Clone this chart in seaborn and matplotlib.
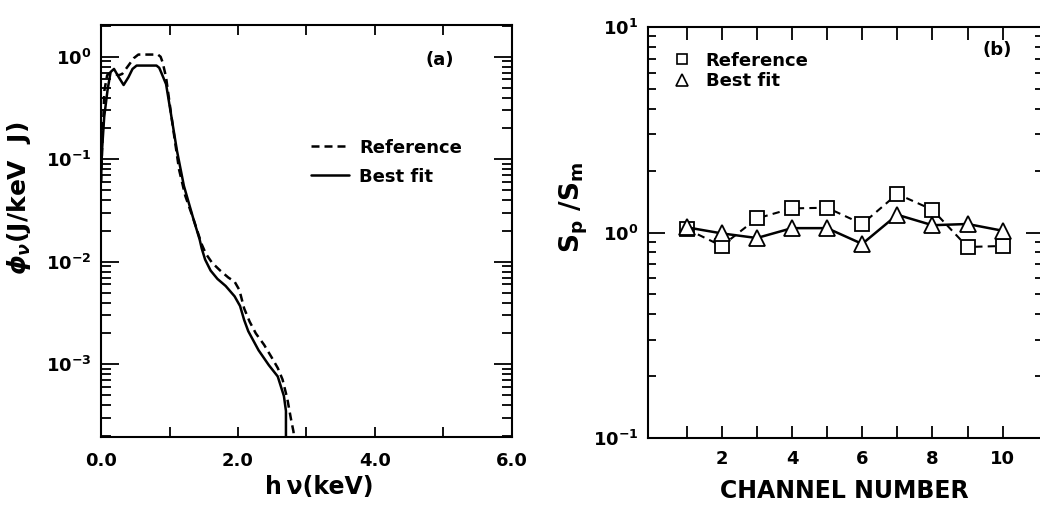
import numpy as np
import pandas as pd
import matplotlib
matplotlib.use("Agg")
import matplotlib.pyplot as plt
from matplotlib.lines import Line2D
from matplotlib.ticker import FixedLocator, FixedFormatter, LogLocator, NullFormatter
import seaborn as sns

# ---------------- data: panel (a) spectra ----------------
ref_energy = [0.00, 0.02, 0.05, 0.09, 0.14, 0.20, 0.26, 0.31, 0.40, 0.48, 0.545,
              0.83, 0.87, 0.90, 0.95, 1.01, 1.07, 1.14, 1.23, 1.35, 1.47, 1.53,
              1.62, 1.74, 1.86, 1.95, 2.02, 2.09, 2.17, 2.26, 2.38, 2.49, 2.58,
              2.65, 2.72, 2.77, 2.81, 2.84]
ref_flux = [0.06, 0.15, 0.47, 0.66, 0.70, 0.68, 0.66, 0.68, 0.82, 0.97, 1.05,
            1.05, 1.00, 0.88, 0.63, 0.32, 0.166, 0.079, 0.044, 0.026, 0.0148, 0.0120,
            0.0098, 0.0082, 0.0070, 0.0064, 0.0053, 0.0035, 0.0026, 0.0020, 0.00155, 0.00117, 0.00092,
            0.00071, 0.00046, 0.00030, 0.00022, 0.00012]

fit_energy = [0.00, 0.014, 0.047, 0.095, 0.14, 0.19, 0.26, 0.33, 0.40, 0.46, 0.52,
              0.81, 0.85, 0.88, 0.95, 1.02, 1.11, 1.21, 1.35, 1.44, 1.47, 1.52,
              1.60, 1.70, 1.82, 1.95, 2.03, 2.09, 2.15, 2.30, 2.45, 2.58, 2.67,
              2.70, 2.70]
fit_flux = [0.06, 0.12, 0.26, 0.47, 0.71, 0.76, 0.63, 0.53, 0.63, 0.76, 0.82,
            0.82, 0.78, 0.70, 0.54, 0.28, 0.12, 0.055, 0.026, 0.0165, 0.0135, 0.0105,
            0.0082, 0.0068, 0.0058, 0.0046, 0.0037, 0.0027, 0.0021, 0.00137, 0.00098, 0.00076, 0.00049,
            0.00035, 0.0001]

# ---------------- data: panel (b) ratios ----------------
channel = [1, 2, 3, 4, 5, 6, 7, 8, 9, 10]
ref_ratio = [1.04, 0.86, 1.17, 1.31, 1.32, 1.10, 1.54, 1.29, 0.85, 0.86]
fit_ratio = [1.06, 0.99, 0.94, 1.05, 1.05, 0.88, 1.22, 1.085, 1.10, 1.02]

x_ticks_a = [0, 1, 2, 3, 4, 5, 6]
x_labels_a = ["0.0", "", "2.0", "", "4.0", "", "6.0"]
y_ticks_a = [1e-3, 1e-2, 1e-1, 1e0]
y_labels_a = [r"$\mathbf{10^{-3}}$", r"$\mathbf{10^{-2}}$", r"$\mathbf{10^{-1}}$", r"$\mathbf{10^{0}}$"]
x_ticks_b = [1, 2, 3, 4, 5, 6, 7, 8, 9, 10]
x_labels_b = ["", "2", "", "4", "", "6", "", "8", "", "10"]
y_ticks_b = [1e-1, 1e0, 1e1]
y_labels_b = [r"$\mathbf{10^{-1}}$", r"$\mathbf{10^{0}}$", r"$\mathbf{10^{1}}$"]

# ---------------- style ----------------
sns.set_theme(style="ticks")
plt.rcParams["font.family"] = ["DejaVu Sans"]
plt.rcParams.update({
    "font.weight": "bold",
    "axes.labelweight": "bold",
    "mathtext.fontset": "custom",
    "mathtext.rm": "DejaVu Sans:bold",
    "mathtext.bf": "DejaVu Sans:bold",
    "mathtext.it": "DejaVu Sans:bold:italic",
    "text.color": "black",
    "axes.labelcolor": "black",
    "axes.edgecolor": "black",
    "xtick.color": "black",
    "ytick.color": "black",
    "axes.linewidth": 1.5,
})

fig = plt.figure(figsize=(10.4, 5.07), dpi=100)
W, H = 1040.0, 507.0
ax1 = fig.add_axes([101 / W, (H - 437) / H, 411 / W, 412 / H])
ax2 = fig.add_axes([648 / W, (H - 438) / H, 395 / W, 411 / H])

# ---------------- panel (a) ----------------
sns.lineplot(x=ref_energy, y=ref_flux, ax=ax1, color="black", lw=1.8,
             sort=False, estimator=None, label="Reference")
sns.lineplot(x=fit_energy, y=fit_flux, ax=ax1, color="black", lw=1.8,
             sort=False, estimator=None, label="Best fit")
ax1.lines[0].set_dashes([3.2, 2.0])
ax1.set_yscale("log")
ax1.set_xlim(0, 6)
ax1.set_ylim(1.95e-4, 2.04)
ax1.xaxis.set_major_locator(FixedLocator(x_ticks_a))
ax1.xaxis.set_major_formatter(FixedFormatter(x_labels_a))
ax1.yaxis.set_major_locator(FixedLocator(y_ticks_a))
ax1.yaxis.set_major_formatter(FixedFormatter(y_labels_a))
ax1.yaxis.set_minor_locator(LogLocator(base=10, subs=np.arange(2, 10), numticks=20))
ax1.yaxis.set_minor_formatter(NullFormatter())
ax1.tick_params(which="both", direction="in", top=True, right=True, width=1.3, labelsize=13)
ax1.tick_params(axis="x", which="major", length=7, pad=11)
ax1.tick_params(axis="y", which="major", length=13, pad=7)
ax1.tick_params(axis="y", which="minor", length=7)
ax1.set_xlabel("h\u2009ν(keV)", fontsize=17)
ax1.set_ylabel(r"$\phi_{\nu}$(J/keV  J)", fontsize=18)
ax1.xaxis.set_label_coords(0.53, -0.092)
ax1.yaxis.set_label_coords(-0.165, 0.58)
ax1.text(0.825, 0.915, "(a)", transform=ax1.transAxes, fontsize=13,
         ha="center", va="center")
ax1.legend(loc="center left", bbox_to_anchor=(0.51, 0.667), frameon=False,
           fontsize=13, handlelength=2.1, handletextpad=0.6, labelspacing=0.6,
           borderpad=0, borderaxespad=0)

# ---------------- panel (b) ----------------
sns.lineplot(x=channel, y=ref_ratio, ax=ax2, color="black", lw=1.5,
             sort=False, estimator=None, marker="s", ms=9.5, mfc="white",
             mec="black", mew=1.3)
sns.lineplot(x=channel, y=fit_ratio, ax=ax2, color="black", lw=1.8,
             sort=False, estimator=None, marker="^", ms=11, mfc="white",
             mec="black", mew=1.3)
ax2.lines[0].set_dashes([3.5, 2.5])
ax2.set_yscale("log")
ax2.set_xlim(-0.1, 11.15)
ax2.set_ylim(0.1, 10)
ax2.xaxis.set_major_locator(FixedLocator(x_ticks_b))
ax2.xaxis.set_major_formatter(FixedFormatter(x_labels_b))
ax2.yaxis.set_major_locator(FixedLocator(y_ticks_b))
ax2.yaxis.set_major_formatter(FixedFormatter(y_labels_b))
ax2.yaxis.set_minor_locator(LogLocator(base=10, subs=np.arange(2, 10), numticks=20))
ax2.yaxis.set_minor_formatter(NullFormatter())
ax2.tick_params(which="both", direction="in", top=True, right=True, width=1.3, labelsize=13)
ax2.tick_params(axis="x", which="major", length=9, pad=9)
ax2.tick_params(axis="y", which="major", length=12, pad=7)
ax2.tick_params(axis="y", which="minor", length=6)
ax2.set_xlabel("CHANNEL NUMBER", fontsize=17)
ax2.set_ylabel(r"S$_{\mathbf{p}}$ /S$_{\mathbf{m}}$", fontsize=19)
ax2.xaxis.set_label_coords(0.498, -0.100)
ax2.yaxis.set_label_coords(-0.147, 0.562)
ax2.text(0.883, 0.944, "(b)", transform=ax2.transAxes, fontsize=13,
         ha="center", va="center")
handles = [Line2D([], [], ls="none", marker="s", ms=7, mfc="white", mec="black", mew=1.2),
           Line2D([], [], ls="none", marker="^", ms=8, mfc="white", mec="black", mew=1.2)]
ax2.legend(handles, ["Reference", "Best fit"], loc="center left",
           bbox_to_anchor=(0.064, 0.893), frameon=False, fontsize=13,
           handlelength=1.0, handletextpad=0.8, labelspacing=0.15,
           borderpad=0, borderaxespad=0)

fig.savefig("out.png", dpi=100)
